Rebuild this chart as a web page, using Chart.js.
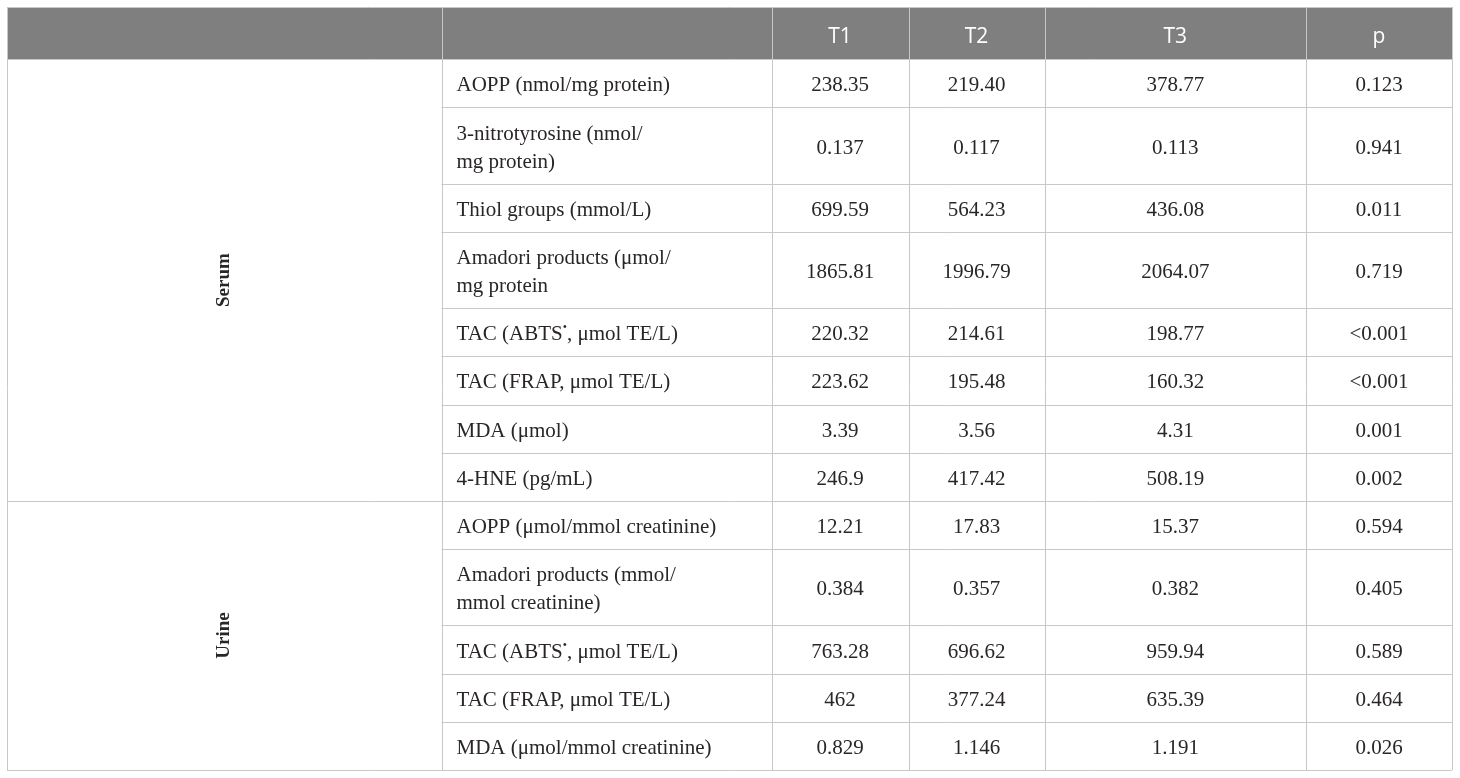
<!DOCTYPE html>
<html>
<head>
<meta charset="utf-8">
<script src="https://cdn.jsdelivr.net/npm/chart.js@4.4.1/dist/chart.umd.min.js"></script>
<style>
  html, body { margin: 0; padding: 0; background: #ffffff; }
  #wrap { width: 1460px; height: 778px; position: relative; }
</style>
</head>
<body>
<div id="wrap"><canvas id="table-chart"></canvas></div>
<script>
// Column headings
const columnHeaders = ['', '', 'T1', 'T2', 'T3', 'p'];

// Sample groups and how many parameter rows each one spans
const groups = ['Serum', 'Urine'];
const groupRowCounts = [8, 5];

// Parameters (\n marks a line break inside the cell)
const parameters = [
  'AOPP (nmol/mg protein)',
  '3-nitrotyrosine (nmol/\nmg protein)',
  'Thiol groups (mmol/L)',
  'Amadori products (μmol/\nmg protein',
  'TAC (ABTS•, μmol TE/L)',
  'TAC (FRAP, μmol TE/L)',
  'MDA (μmol)',
  '4-HNE (pg/mL)',
  'AOPP (μmol/mmol creatinine)',
  'Amadori products (mmol/\nmmol creatinine)',
  'TAC (ABTS•, μmol TE/L)',
  'TAC (FRAP, μmol TE/L)',
  'MDA (μmol/mmol creatinine)'
];

// Values per time point, kept as printed
const t1Values = ['238.35', '0.137', '699.59', '1865.81', '220.32', '223.62', '3.39', '246.9', '12.21', '0.384', '763.28', '462', '0.829'];
const t2Values = ['219.40', '0.117', '564.23', '1996.79', '214.61', '195.48', '3.56', '417.42', '17.83', '0.357', '696.62', '377.24', '1.146'];
const t3Values = ['378.77', '0.113', '436.08', '2064.07', '198.77', '160.32', '4.31', '508.19', '15.37', '0.382', '959.94', '635.39', '1.191'];
const pValues = ['0.123', '0.941', '0.011', '0.719', '<0.001', '<0.001', '0.001', '0.002', '0.594', '0.405', '0.589', '0.464', '0.026'];

// Layout (in scale units)
const colWidths = [434.5, 330, 137, 136, 261.5, 146];
const headerHeight = 52;
const rowPad = 20;
const lineHeight = 28;

const colors = {
  header: '#7f7f7f',
  headerText: '#ffffff',
  border: '#c8c8c8',
  text: '#2a2627'
};

const serif = '"Liberation Serif", "DejaVu Serif", serif';
const sans = '"Open Sans", "Noto Sans", sans-serif';

// Edges of columns and rows
const colEdges = [0];
colWidths.forEach(w => colEdges.push(colEdges[colEdges.length - 1] + w));
const rowEdges = [0, headerHeight];
parameters.forEach(p => {
  const lines = p.split('\n').length;
  rowEdges.push(rowEdges[rowEdges.length - 1] + rowPad + lineHeight * lines);
});
const totalWidth = colEdges[colEdges.length - 1];
const totalHeight = rowEdges[rowEdges.length - 1];

// Draw text with a superscript bullet (ABTS•)
function drawRich(ctx, text, x, y, font, size) {
  const parts = text.split('•');
  let cx = x;
  parts.forEach((part, i) => {
    ctx.font = `${size}px ${font}`;
    ctx.fillText(part, cx, y);
    cx += ctx.measureText(part).width;
    if (i < parts.length - 1) {
      ctx.font = `${Math.round(size * 0.55)}px ${font}`;
      ctx.fillText('•', cx, y - size * 0.42);
      cx += ctx.measureText('•').width;
    }
  });
}

const tablePlugin = {
  id: 'tablePlugin',
  afterDraw(chart) {
    const { ctx, scales: { x, y } } = chart;
    const xp = v => x.getPixelForValue(v);
    const yp = v => y.getPixelForValue(v);
    const crisp = v => Math.round(v) + 0.5;

    ctx.save();

    // Header background
    ctx.fillStyle = colors.header;
    ctx.fillRect(xp(0), yp(0), xp(totalWidth) - xp(0), yp(headerHeight) - yp(0));

    // Grid lines
    ctx.strokeStyle = colors.border;
    ctx.lineWidth = 1;
    ctx.beginPath();
    // vertical
    colEdges.forEach(c => {
      const px = crisp(xp(c));
      ctx.moveTo(px, yp(0));
      ctx.lineTo(px, yp(totalHeight));
    });
    // horizontal: group boundaries span full width, others start at the parameter column
    const groupEdges = [0, 1];
    let acc = 1;
    groupRowCounts.forEach(n => { acc += n; groupEdges.push(acc); });
    rowEdges.forEach((r, i) => {
      const py = crisp(yp(r));
      const startCol = groupEdges.includes(i) ? 0 : 1;
      ctx.moveTo(xp(colEdges[startCol]), py);
      ctx.lineTo(xp(totalWidth), py);
    });
    ctx.stroke();

    // Header text
    ctx.fillStyle = colors.headerText;
    ctx.font = `21px ${sans}`;
    ctx.textAlign = 'center';
    ctx.textBaseline = 'alphabetic';
    columnHeaders.forEach((h, i) => {
      if (!h) return;
      const cx = (xp(colEdges[i]) + xp(colEdges[i + 1])) / 2;
      const cy = (yp(0) + yp(headerHeight)) / 2;
      ctx.fillText(h, cx, cy + 9.5);
    });

    // Group labels (rotated)
    ctx.fillStyle = colors.text;
    ctx.font = `bold 19px ${serif}`;
    let start = 0;
    groups.forEach((g, gi) => {
      const top = yp(rowEdges[1 + start]);
      const bottom = yp(rowEdges[1 + start + groupRowCounts[gi]]);
      const cx = (xp(colEdges[0]) + xp(colEdges[1])) / 2;
      ctx.save();
      ctx.translate(cx, (top + bottom) / 2);
      ctx.rotate(-Math.PI / 2);
      ctx.textAlign = 'center';
      ctx.textBaseline = 'middle';
      ctx.fillText(g, 0, 0);
      ctx.restore();
      start += groupRowCounts[gi];
    });

    // Body cells
    const columns = [t1Values, t2Values, t3Values, pValues];
    parameters.forEach((p, ri) => {
      const top = yp(rowEdges[ri + 1]);
      const bottom = yp(rowEdges[ri + 2]);
      const cy = (top + bottom) / 2;
      const lines = p.split('\n');

      ctx.textAlign = 'left';
      lines.forEach((line, li) => {
        const ly = cy + (li - (lines.length - 1) / 2) * lineHeight + 8;
        drawRich(ctx, line, xp(colEdges[1]) + 15, ly, serif, 21);
      });

      ctx.textAlign = 'center';
      ctx.font = `21px ${serif}`;
      columns.forEach((vals, ci) => {
        const cx = (xp(colEdges[ci + 2]) + xp(colEdges[ci + 3])) / 2;
        ctx.fillText(vals[ri], cx, cy + 8);
      });
    });

    ctx.restore();
  }
};

const tableChart = new Chart(document.getElementById('table-chart').getContext('2d'), {
  type: 'scatter',
  data: { datasets: [] },
  options: {
    responsive: true,
    maintainAspectRatio: false,
    animation: false,
    layout: {
      padding: { left: 7, top: 7, right: 8, bottom: 8 }
    },
    scales: {
      x: { type: 'linear', min: 0, max: totalWidth, display: false },
      y: { type: 'linear', min: 0, max: totalHeight, reverse: true, display: false }
    },
    plugins: {
      legend: { display: false },
      tooltip: { enabled: false }
    }
  },
  plugins: [tablePlugin]
});
</script>
</body>
</html>
